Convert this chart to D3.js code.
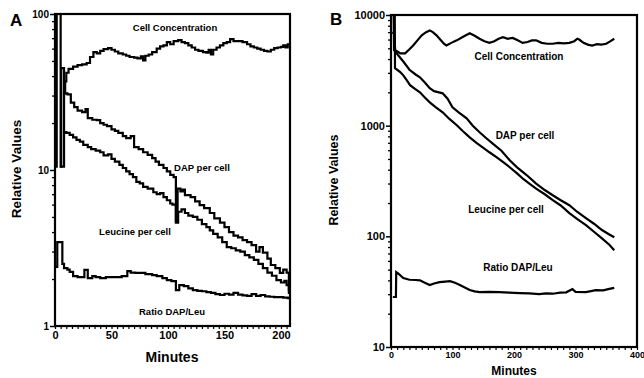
<!DOCTYPE html>
<html><head><meta charset="utf-8">
<script src="https://cdn.jsdelivr.net/npm/d3@7"></script>
<style>
html,body{margin:0;padding:0;background:#fff;}
svg{display:block;}
text{font-family:"Liberation Sans",Arial,sans-serif;font-weight:bold;fill:#000;}
</style></head>
<body>
<svg id="chart" width="644" height="378"></svg>
<script>
// ---------- Panel A data (minutes, relative value) ----------
const aCell = [[0,10.5],[1.5,110],[5,10.5],[8,31],[9,37],[10,42],[12,44.5],[16,46],[20,47],[24,47.5],[28,48.5],[31,53],[34,57],[37,56],[40,58],[43,59.5],[47,60.5],[50,59],[53,57.5],[56,56],[60,55],[63,54],[66,53],[70,52.5],[73,52],[76,53.5],[78,50.5],[80,54],[83,55],[86,57],[90,60],[93,62],[96,63],[99,66],[102,64],[105,67],[109,68],[112,66],[115,65],[118,63],[121,61],[124,59],[127,58],[131,57],[134,56.5],[136,59],[138,55],[140,59],[143,61],[146,63],[149,65],[152,66],[155,69],[158,67],[162,67],[166,66],[170,64],[173,62],[176,61],[179,60],[182,59],[185,58],[188,57.5],[191,59],[194,60.5],[197,61],[200,61.5],[202,63],[204,61],[206,64],[208,65]];
const aDAP = [[4.5,10.5],[5.5,45],[8,31],[11,30.5],[14,27],[17,25.3],[20,24],[24,23.5],[27,24.6],[29,21.5],[33,21],[37,20.9],[40,20],[43,19.5],[46,19.1],[50,18.2],[53,17.8],[56,17.3],[60,16.5],[63,16],[67,16.5],[70,14],[74,13.6],[78,13],[82,12.5],[86,11.9],[89,11.3],[92,10.8],[96,10.3],[99,9.8],[102,9.3],[105,9.0],[107,4.7],[108.5,7.6],[111,7.3],[113,7.5],[115,6.9],[118,6.9],[120,6.7],[124,6.3],[128,5.95],[132,5.7],[137,5.3],[141,4.9],[146,4.6],[150,4.3],[154,4.0],[158,3.8],[162,3.7],[166,3.55],[170,3.45],[174,3.3],[178,3.0],[181,3.2],[184,2.95],[188,2.7],[191,2.46],[195,2.35],[199,2.19],[202,2.3],[205,2.2],[207,1.7],[208,1.7]];
const aLeu = [[7,17.5],[10,17.3],[13,16.8],[16,16.2],[19,15.6],[22,15.2],[25,14.5],[29,14.0],[32,13.6],[36,13.3],[40,13.0],[43,12.4],[47,12.6],[50,11.8],[53,11.3],[57,10.8],[60,10.3],[63,9.8],[66,9.4],[69,9.0],[72,8.4],[75,8.2],[78,7.8],[82,7.6],[87,7.2],[90,7.0],[93,7.1],[96,6.7],[99,6.4],[102,6.1],[104,6.0],[107,4.6],[109,5.4],[112,5.6],[115,5.3],[118,5.1],[122,5.0],[126,4.8],[130,4.5],[134,4.3],[137,4.1],[140,3.9],[144,3.7],[148,3.45],[152,3.2],[156,3.15],[160,3.05],[164,3.0],[168,2.85],[172,2.75],[176,2.65],[180,2.5],[184,2.35],[188,2.2],[192,2.1],[196,1.97],[200,1.9],[203,1.95],[205,1.83],[207,1.63],[208,1.63]];
const aRatio = [[0,2.39],[2,3.45],[6.5,2.5],[8,2.35],[11,2.3],[13,2.22],[16,2.09],[20,2.06],[26,2.29],[29,2.03],[33,2.09],[36,2.06],[40,2.03],[45,2.06],[50,2.06],[55,2.06],[59,2.09],[64,2.25],[67,2.2],[71,2.19],[75,2.19],[80,2.15],[86,2.12],[90,2.09],[95,2.03],[99,1.97],[103,1.94],[107,1.70],[110,1.83],[114,1.80],[118,1.74],[122,1.70],[126,1.68],[130,1.67],[134,1.65],[138,1.63],[142,1.60],[146,1.58],[150,1.61],[154,1.59],[158,1.63],[162,1.59],[166,1.57],[170,1.56],[174,1.60],[178,1.56],[182,1.58],[186,1.55],[190,1.54],[194,1.53],[198,1.53],[202,1.52],[206,1.51],[208,1.51]];

// ---------- Panel B data ----------
const bCell = [[0,14000],[4,14000],[5,4800],[10,4700],[15,4500],[23,4500],[30,4900],[36,5300],[43,5900],[50,6550],[57,7000],[63,7260],[68,7000],[74,6550],[80,6000],[86,5500],[90,5300],[98,5600],[107,5900],[118,6400],[128,6830],[136,6500],[144,6100],[152,5800],[160,5600],[168,5800],[175,6100],[182,6300],[190,6100],[198,6200],[206,5900],[214,5600],[222,5700],[229,5900],[236,5900],[245,5600],[254,5500],[263,5500],[272,5600],[281,5550],[290,5600],[298,5800],[303,6100],[306,6000],[313,5600],[320,5400],[327,5300],[335,5450],[342,5400],[350,5500],[357,5800],[363,6100]];
const bDAP = [[2,6900],[5,6900],[7,4700],[12,4300],[20,3800],[30,3200],[40,2900],[47,2735],[55,2450],[63,2180],[70,2050],[78,2000],[84,1960],[92,1750],[100,1466],[110,1320],[123,1164],[133,1000],[144,871],[155,770],[165,693],[180,590],[193,487],[205,420],[220,360],[236,300],[250,262],[263,235],[276,212],[290,191],[303,166],[317,146],[330,130],[343,114],[355,104],[363,98]];
const bLeu = [[6,14000],[6.5,3300],[10,3200],[15,3050],[20,2850],[25,2600],[31,2320],[39,2150],[47,2000],[55,1800],[63,1625],[72,1480],[84,1320],[95,1150],[107,1009],[117,890],[128,785],[139,700],[149,638],[160,575],[172,518],[183,465],[193,421],[205,370],[215,330],[225,300],[236,270],[250,240],[263,212],[276,190],[290,162],[303,143],[317,126],[330,110],[343,96],[355,84],[363,75]];
const bRatio = [[3,28.3],[8,28.3],[8.5,47.5],[12,46],[20,42],[30,40.5],[40,40.3],[47,40],[55,38],[63,36.3],[70,37.5],[79,38.6],[88,39],[96,39.4],[104,38],[112,36.3],[120,34.5],[128,32.7],[136,31.8],[144,31.3],[160,31.5],[176,31.3],[192,31],[209,30.7],[225,30.5],[241,30],[252,30.5],[263,30.3],[275,31],[285,31.2],[295,33.4],[300,31.5],[317,31.3],[325,32],[333,32.7],[345,32.5],[355,33.5],[363,34.2]];

// ---------- Ticks ----------
const aXTicks = [0,50,100,150,200];
const aYTicks = [1,10,100];
const bXTicks = [0,100,200,300,400];
const bYTicks = [10,100,1000,10000];

const svg = d3.select("#chart");
svg.append("rect").attr("width",644).attr("height",378).attr("fill","#fff");

function minorLog(lo, hi){
  const out=[];
  for(let d=lo; d<hi; d*=10) for(let k=2;k<=9;k++) out.push(d*k);
  return out;
}

function panel(cfg){
  const g = svg.append("g");
  const x = d3.scaleLinear().domain(cfg.xDom).range(cfg.xRange);
  const y = d3.scaleLog().domain(cfg.yDom).range(cfg.yRange);
  const [x0,x1]=cfg.xRange, [y0,y1]=cfg.yRange; // y0 bottom, y1 top

  const cid = "clip"+cfg.id;
  svg.append("clipPath").attr("id",cid).append("rect")
    .attr("x",x0).attr("y",y1).attr("width",x1-x0).attr("height",y0-y1);

  // minor y ticks
  g.append("g").attr("transform",`translate(${x0},0)`)
    .call(d3.axisLeft(y).tickValues(minorLog(cfg.yDom[0],cfg.yDom[1])).tickSize(3).tickFormat(""))
    .call(s=>{s.select(".domain").remove(); s.selectAll("line").attr("stroke-width",1.3);});
  // major y ticks
  g.append("g").attr("transform",`translate(${x0},0)`)
    .call(d3.axisLeft(y).tickValues(cfg.yTicks).tickSize(5).tickPadding(1).tickFormat(d3.format("d")))
    .call(s=>{s.select(".domain").remove(); s.selectAll("line").attr("stroke-width",1.5);
      s.selectAll("text").style("font-size",cfg.yFont+"px").attr("font-family","Liberation Sans, Arial, sans-serif").attr("font-weight","bold");});
  // minor x ticks
  g.append("g").attr("transform",`translate(0,${y0})`)
    .call(d3.axisBottom(x).tickValues(d3.range(cfg.xDom[0],cfg.xDom[1]+0.01,cfg.xMinor)).tickSize(3).tickFormat(""))
    .call(s=>{s.select(".domain").remove(); s.selectAll("line").attr("stroke-width",1.2);});
  // x labels
  g.append("g").attr("transform",`translate(0,${y0})`)
    .call(d3.axisBottom(x).tickValues(cfg.xTicks).tickSize(0).tickPadding(cfg.xPad).tickFormat(d3.format("d")))
    .call(s=>{s.select(".domain").remove();
      s.selectAll("text").style("font-size",cfg.xFont+"px").attr("font-family","Liberation Sans, Arial, sans-serif").attr("font-weight","bold");});

  // frame
  g.append("rect").attr("x",x0).attr("y",y1).attr("width",x1-x0).attr("height",y0-y1)
    .attr("fill","none").attr("stroke","#000").attr("stroke-width",2.2);

  const line = d3.line().x(d=>x(d[0])).y(d=>y(d[1])).curve(cfg.curve);
  const lg = g.append("g").attr("clip-path",`url(#${cid})`);
  cfg.series.forEach(s=>{
    lg.append("path").attr("d",line(s)).attr("fill","none").attr("stroke","#000")
      .attr("stroke-width",cfg.lw).attr("stroke-linejoin","miter");
  });

  cfg.labels.forEach(l=>{
    g.append("text").attr("x",l[1]).attr("y",l[2]).attr("text-anchor","middle")
      .style("font-size",l[3]+"px").text(l[0]);
  });
  // axis titles
  g.append("text").attr("x",cfg.xt[0]).attr("y",cfg.xt[1]).attr("text-anchor","middle")
    .style("font-size",cfg.xt[2]+"px").text("Minutes");
  g.append("text").attr("transform",`translate(${cfg.yt[0]},${cfg.yt[1]}) rotate(-90)`).attr("text-anchor","middle")
    .style("font-size",cfg.yt[2]+"px").text("Relative Values");
  g.append("text").attr("x",cfg.letter[1]).attr("y",cfg.letter[2]).style("font-size",cfg.letter[3]+"px")
    .style("font-weight","900").text(cfg.letter[0]);
}

panel({
  id:"A", xDom:[0,208], xRange:[55,290], yDom:[1,100], yRange:[326,14],
  yTicks:aYTicks, xTicks:aXTicks, xMinor:5, yFont:10, xFont:11, xPad:5,
  curve:d3.curveStepAfter, lw:2.2,
  series:[aCell,aDAP,aLeu,aRatio],
  labels:[["Cell Concentration",175,31,9.5],["DAP per cell",202,171,9.5],["Leucine per cell",135,235,9.5],["Ratio DAP/Leu",172,315,9.5]],
  xt:[172,362,14], yt:[21,169,13.5], letter:["A",10,26,17]
});
panel({
  id:"B", xDom:[0,400], xRange:[391,637], yDom:[10,10000], yRange:[347,15],
  yTicks:bYTicks, xTicks:bXTicks, xMinor:10, yFont:11, xFont:9, xPad:5,
  curve:d3.curveLinear, lw:2.2,
  series:[bCell,bDAP,bLeu,bRatio],
  labels:[["Cell Concentration",519,60,10],["DAP per cell",525,139,10],["Leucine per cell",506,213,10],["Ratio DAP/Leu",518,271,10]],
  xt:[514,375,12], yt:[338,180,12.5], letter:["B",330,25,17]
});
</script>
</body></html>
